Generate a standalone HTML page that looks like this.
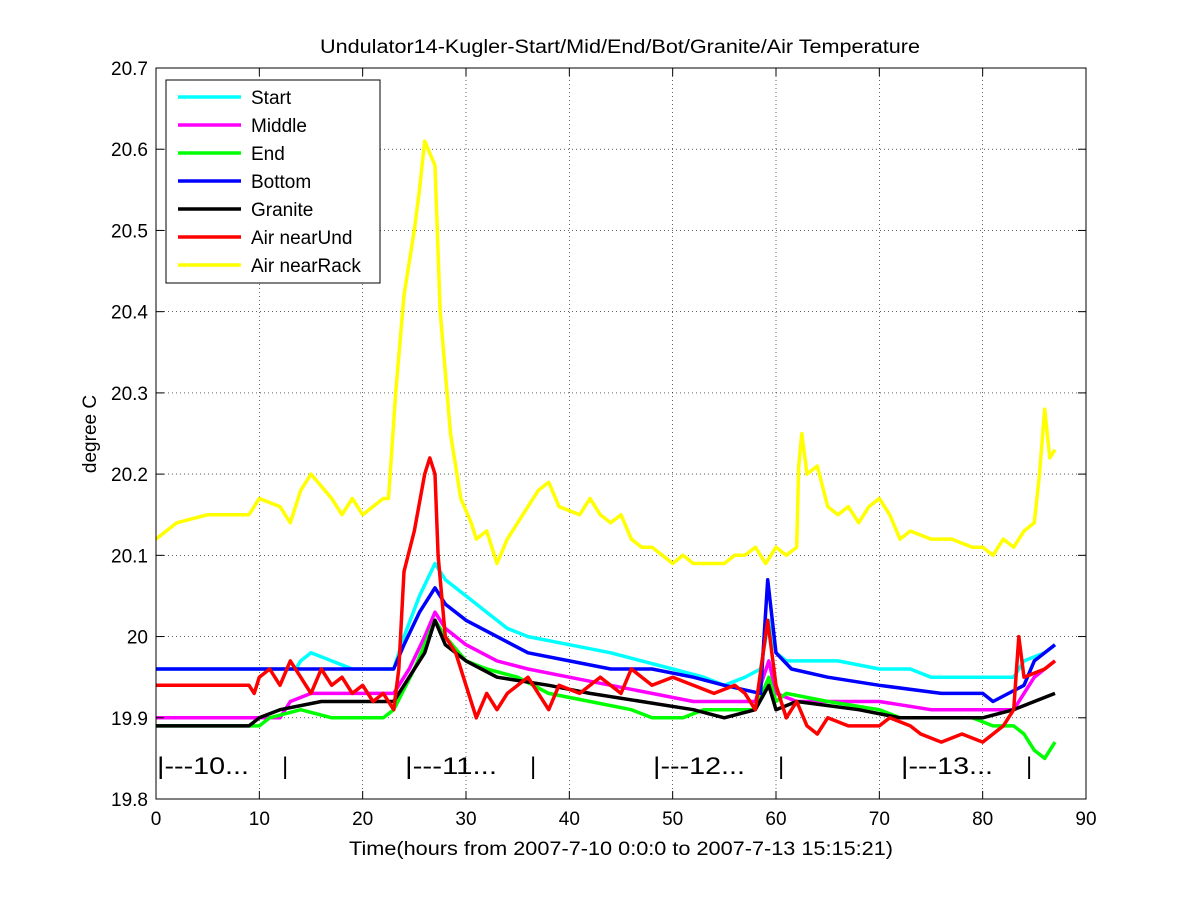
<!DOCTYPE html>
<html><head><meta charset="utf-8"><style>
body{margin:0;background:#fff;}
svg{display:block;font-family:"Liberation Sans",Arial,sans-serif;}
</style></head><body>
<svg id="chart" width="1200" height="900" viewBox="0 0 1200 900">
<rect x="0" y="0" width="1200" height="900" fill="#fff"/>
<g id="grid"></g><g id="series"></g><g id="axes"></g><g id="legend"></g>
</svg>
<script>
const xTicks=[0,10,20,30,40,50,60,70,80,90];
const yTicks=[19.8,19.9,20,20.1,20.2,20.3,20.4,20.5,20.6,20.7];
const yTickLabels=["19.8","19.9","20","20.1","20.2","20.3","20.4","20.5","20.6","20.7"];
const seriesNames=["Start","Middle","End","Bottom","Granite","Air nearUnd","Air nearRack"];
const seriesColors=["#00ffff","#ff00ff","#00ff00","#0000ff","#000000","#ff0000","#ffff00"];
const nearRackX=[0,2,5,9,10,12,13,14,15,17,18,19,20,22,22.5,23.2,24,25,25.5,26,27,27.5,28.5,29.5,30.5,31,32,33,34,35.5,37,38,39,41,42,43,44,45,46,47,48,49,50,51,52,54,55,56,57,58,59,60,61,62,62.2,62.5,63,64,65,66,67,68,69,70,71,72,73,75,77,79,80,81,82,83,84,85,85.5,86,86.5,87];
const nearRackY=[20.12,20.14,20.15,20.15,20.17,20.16,20.14,20.18,20.2,20.17,20.15,20.17,20.15,20.17,20.17,20.3,20.42,20.5,20.55,20.61,20.58,20.4,20.25,20.17,20.14,20.12,20.13,20.09,20.12,20.15,20.18,20.19,20.16,20.15,20.17,20.15,20.14,20.15,20.12,20.11,20.11,20.1,20.09,20.1,20.09,20.09,20.09,20.1,20.1,20.11,20.09,20.11,20.1,20.11,20.21,20.25,20.2,20.21,20.16,20.15,20.16,20.14,20.16,20.17,20.15,20.12,20.13,20.12,20.12,20.11,20.11,20.1,20.12,20.11,20.13,20.14,20.2,20.28,20.22,20.23];
const startX=[0,13.5,14,15,17,19,23,24,25.5,27,28,30,32,34,36,40,44,47,50,53,55,57,58.5,59.3,60,61,66,70,73,75,83,84,86,87];
const startY=[19.96,19.96,19.97,19.98,19.97,19.96,19.96,20.0,20.05,20.09,20.07,20.05,20.03,20.01,20.0,19.99,19.98,19.97,19.96,19.95,19.94,19.95,19.96,20.02,19.98,19.97,19.97,19.96,19.96,19.95,19.95,19.97,19.98,19.99];
const middleX=[0,12,13,15,23,24.5,26,27,28,30,33,36,40,44,48,52,58,59.3,60,62,70,75,83,85,87];
const middleY=[19.9,19.9,19.92,19.93,19.93,19.96,20.0,20.03,20.01,19.99,19.97,19.96,19.95,19.94,19.93,19.92,19.92,19.97,19.93,19.92,19.92,19.91,19.91,19.95,19.97];
const endX=[0,10,11,14,17,22,23,25,27,28,30,32,35,38,42,46,48,51,53,58,59.3,60,61,65,70,72,79,81,83,84,85,86,87];
const endY=[19.89,19.89,19.9,19.91,19.9,19.9,19.91,19.96,20.02,20.0,19.97,19.96,19.95,19.93,19.92,19.91,19.9,19.9,19.91,19.91,19.95,19.92,19.93,19.92,19.91,19.9,19.9,19.89,19.89,19.88,19.86,19.85,19.87];
const bottomX=[0,23,24,25.5,27,28,30,33,36,40,44,48,52,55,58.5,59.2,60,61.5,65,70,76,80,81,84,85,87];
const bottomY=[19.96,19.96,19.99,20.03,20.06,20.04,20.02,20.0,19.98,19.97,19.96,19.96,19.95,19.94,19.93,20.07,19.98,19.96,19.95,19.94,19.93,19.93,19.92,19.94,19.97,19.99];
const graniteX=[0,9,10,12,16,23,24,26,27,28,30,33,38,42,47,52,55,58,59.3,60,62,68,72,80,83,85,87];
const graniteY=[19.89,19.89,19.9,19.91,19.92,19.92,19.94,19.98,20.02,19.99,19.97,19.95,19.94,19.93,19.92,19.91,19.9,19.91,19.94,19.91,19.92,19.91,19.9,19.9,19.91,19.92,19.93];
const nearUndX=[0,9,9.5,10,11,12,13,14,15,16,17,18,19,20,21,22,23,23.5,24,25,26,26.5,27,27.3,28,29,30,31,32,33,34,36,37,38,39,41,43,45,46,48,50,52,54,56,57,58,59.2,60,61,62,63,64,65,67,70,71,73,74,76,78,80,82,83,83.5,84,86,87];
const nearUndY=[19.94,19.94,19.93,19.95,19.96,19.94,19.97,19.95,19.93,19.96,19.94,19.95,19.93,19.94,19.92,19.93,19.91,19.96,20.08,20.13,20.2,20.22,20.2,20.1,20.0,19.98,19.94,19.9,19.93,19.91,19.93,19.95,19.93,19.91,19.94,19.93,19.95,19.93,19.96,19.94,19.95,19.94,19.93,19.94,19.93,19.91,20.02,19.94,19.9,19.92,19.89,19.88,19.9,19.89,19.89,19.9,19.89,19.88,19.87,19.88,19.87,19.89,19.91,20.0,19.95,19.96,19.97];
const annotX=[0,24,48,72];
const annotText=["|---10...","|---11...","|---12...","|---13..."];

const L=156,R=1086,T=68,B=799;
const sx=v=>L+(v-0)/(90-0)*(R-L);
const sy=v=>B-(v-19.8)/(20.7-19.8)*(B-T);
const NS="http://www.w3.org/2000/svg";
function mk(tag,attrs,parent){const e=document.createElementNS(NS,tag);for(const k in attrs)e.setAttribute(k,attrs[k]);parent.appendChild(e);return e;}
const grid=document.getElementById('grid'),axes=document.getElementById('axes'),ser=document.getElementById('series'),leg=document.getElementById('legend');

xTicks.forEach((t,i)=>{
  const x=sx(t);
  if(i>0&&i<xTicks.length-1){const g=mk('line',{x1:x,x2:x,y1:T,y2:B,stroke:'#000','stroke-width':0.6,'stroke-dasharray':'1,3'},grid);
  }
  mk('line',{x1:x,x2:x,y1:B,y2:B-8,stroke:'#000'},axes);
  mk('line',{x1:x,x2:x,y1:T,y2:T+8,stroke:'#000'},axes);
  const tx=mk('text',{x:x,y:B+26,'font-size':19,'text-anchor':'middle'},axes);tx.textContent=t;
  
});
yTicks.forEach((t,i)=>{
  const y=sy(t);
  if(i>0&&i<yTicks.length-1){const g=mk('line',{x1:L,x2:R,y1:y,y2:y,stroke:'#000','stroke-width':0.6,'stroke-dasharray':'1,3'},grid);
  }
  mk('line',{x1:L,x2:L+8,y1:y,y2:y,stroke:'#000'},axes);
  mk('line',{x1:R,x2:R-8,y1:y,y2:y,stroke:'#000'},axes);
  const tx=mk('text',{x:L-8,y:y+7,'font-size':19,'text-anchor':'end'},axes);tx.textContent=yTickLabels[i];
  
});
const frame=mk('rect',{x:L,y:T,width:R-L,height:B-T,fill:'none',stroke:'#000'},axes);


const data=[[startX,startY],[middleX,middleY],[endX,endY],[bottomX,bottomY],[graniteX,graniteY],[nearUndX,nearUndY],[nearRackX,nearRackY]];
const order=[6,0,1,2,3,4,5];
order.forEach(i=>{
  const [xs,ys]=data[i];
  let d='';
  for(let k=0;k<xs.length;k++){
    d+=(k===0?'M':'L')+sx(xs[k]).toFixed(1)+','+sy(ys[k]).toFixed(1);
  }
  const p=mk('path',{d:d,fill:'none',stroke:seriesColors[i],'stroke-width':3.5,'stroke-linejoin':'round'},ser);
  
  
});

annotX.forEach((a,i)=>{
  const t=mk('text',{x:sx(a)+1,y:774,'font-size':24,textLength:92,lengthAdjust:'spacingAndGlyphs'},axes);t.textContent=annotText[i];
  
  const t2=mk('text',{x:sx(a+12)+2,y:774,'font-size':24},axes);t2.textContent='|';
  
});

const title=mk('text',{x:320,y:53,'font-size':19,textLength:600,lengthAdjust:'spacingAndGlyphs'},axes);title.textContent='Undulator14-Kugler-Start/Mid/End/Bot/Granite/Air Temperature';

const xl=mk('text',{x:349,y:855,'font-size':19,textLength:544,lengthAdjust:'spacingAndGlyphs'},axes);xl.textContent='Time(hours from 2007-7-10 0:0:0 to 2007-7-13 15:15:21)';

const yl=mk('text',{x:0,y:0,'font-size':19,'text-anchor':'middle',transform:'translate(96,434) rotate(-90)'},axes);yl.textContent='degree C';


const lb=mk('rect',{x:166,y:80,width:214,height:203,fill:'#fff',stroke:'#000'},leg);

seriesNames.forEach((n,i)=>{
  const y=97+i*28;
  const g=mk('g',{},leg);
  
  mk('line',{x1:178,x2:241,y1:y,y2:y,stroke:seriesColors[i],'stroke-width':3.5},g);
  const t=mk('text',{x:251,y:y+7,'font-size':19},g);t.textContent=n;
});
</script>
</body></html>
